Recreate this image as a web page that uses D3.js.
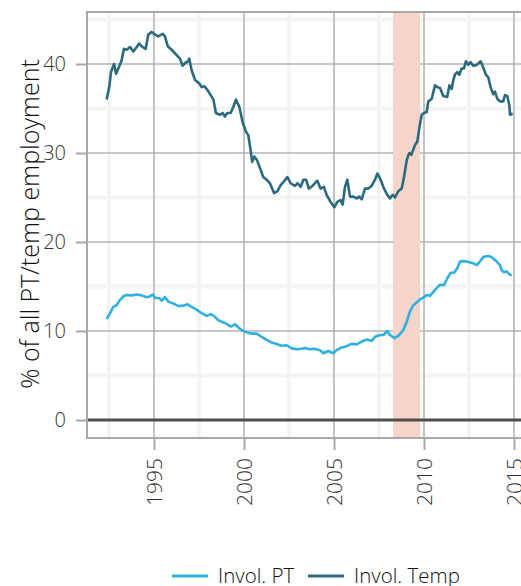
<!DOCTYPE html>
<html><head><meta charset="utf-8">
<script src="https://cdn.jsdelivr.net/npm/d3@7/dist/d3.min.js"></script>
<style>
body{margin:0;background:#fff;overflow:hidden;}
text{font-family:"Open Sans",sans-serif;font-weight:300;}
</style></head><body>
<svg id="c" width="521" height="586"></svg>
<script>
const tempYears=[1992.37,1992.52,1992.61,1992.78,1992.89,1993.06,1993.2,1993.33,1993.48,1993.67,1993.85,1994.0,1994.18,1994.37,1994.54,1994.68,1994.87,1995.06,1995.24,1995.48,1995.61,1995.76,1995.98,1996.26,1996.44,1996.59,1996.72,1996.87,1996.96,1997.09,1997.28,1997.52,1997.65,1997.8,1997.96,1998.15,1998.3,1998.44,1998.67,1998.81,1998.94,1999.07,1999.26,1999.41,1999.55,1999.74,1999.93,2000.11,2000.24,2000.37,2000.45,2000.57,2000.72,2000.89,2001.07,2001.26,2001.44,2001.67,2001.85,2002.04,2002.22,2002.41,2002.59,2002.83,2002.98,2003.15,2003.3,2003.45,2003.6,2003.8,2004.07,2004.25,2004.44,2004.59,2004.81,2005.02,2005.18,2005.37,2005.48,2005.61,2005.74,2005.89,2006.07,2006.26,2006.4,2006.54,2006.72,2006.9,2007.09,2007.28,2007.41,2007.59,2007.78,2007.96,2008.11,2008.26,2008.39,2008.57,2008.76,2008.89,2009.04,2009.18,2009.3,2009.5,2009.63,2009.74,2009.87,2010.0,2010.15,2010.24,2010.43,2010.61,2010.74,2010.89,2011.07,2011.29,2011.41,2011.54,2011.63,2011.72,2011.85,2011.96,2012.09,2012.22,2012.33,2012.46,2012.59,2012.74,2012.93,2013.15,2013.29,2013.44,2013.57,2013.7,2013.85,2013.94,2014.07,2014.22,2014.4,2014.5,2014.63,2014.74,2014.78,2014.93];
const tempValues=[36.0,37.5,39.1,40.0,38.9,39.7,40.4,41.7,41.6,41.9,41.4,41.8,42.3,41.9,41.7,43.3,43.6,43.3,43.1,43.4,43.1,42.0,41.6,41.0,40.6,39.8,40.1,40.3,40.6,39.3,38.2,37.8,37.4,37.5,37.1,36.5,36.0,34.5,34.3,34.5,34.1,34.5,34.5,35.2,36.0,35.2,33.4,32.4,32.0,30.3,29.0,29.6,29.2,28.3,27.3,27.0,26.6,25.5,25.7,26.4,26.8,27.3,26.6,26.3,26.6,26.2,27.0,27.0,26.0,26.3,26.9,26.0,26.2,25.3,24.5,23.9,24.5,24.7,24.2,26.2,27.0,25.1,25.1,24.9,25.1,24.8,26.0,26.0,26.3,27.0,27.7,27.0,26.0,25.3,24.9,25.3,25.0,25.7,26.0,27.3,29.2,30.0,29.8,30.9,31.3,32.8,34.3,34.5,34.6,35.8,36.1,37.6,37.4,37.3,36.4,36.3,37.6,37.2,38.2,38.8,39.1,38.8,39.5,39.5,40.3,39.9,40.2,39.8,39.9,40.3,39.6,38.8,38.5,37.4,36.6,36.9,36.1,35.8,35.8,36.5,36.4,35.4,34.3,34.4];
const ptYears=[1992.37,1992.56,1992.74,1992.93,1993.11,1993.3,1993.48,1993.76,1994.04,1994.32,1994.59,1994.78,1994.93,1995.06,1995.3,1995.43,1995.61,1995.8,1996.07,1996.35,1996.63,1996.87,1997.09,1997.37,1997.65,1997.93,1998.17,1998.39,1998.57,1998.81,1999.04,1999.26,1999.5,1999.69,1999.87,2000.15,2000.43,2000.7,2000.98,2001.26,2001.54,2001.81,2002.09,2002.37,2002.65,2002.93,2003.2,2003.4,2003.62,2003.94,2004.22,2004.41,2004.68,2004.96,2005.15,2005.43,2005.7,2005.98,2006.26,2006.54,2006.82,2007.09,2007.28,2007.56,2007.75,2007.96,2008.11,2008.35,2008.57,2008.85,2009.04,2009.22,2009.41,2009.59,2009.78,2010.0,2010.15,2010.33,2010.52,2010.74,2010.89,2011.11,2011.29,2011.48,2011.67,2011.85,2012.0,2012.18,2012.37,2012.56,2012.74,2012.93,2013.11,2013.29,2013.48,2013.67,2013.85,2014.04,2014.22,2014.31,2014.44,2014.59,2014.74,2014.87];
const ptValues=[11.35,12.0,12.7,12.9,13.5,13.9,14.05,14.0,14.1,14.0,13.8,13.9,14.1,13.7,13.7,13.4,13.8,13.3,13.1,12.8,12.85,13.0,12.7,12.4,12.0,11.7,11.9,11.6,11.2,11.0,10.8,10.5,10.75,10.4,10.1,9.85,9.7,9.7,9.35,9.0,8.7,8.55,8.35,8.4,8.05,7.95,8.0,8.1,7.95,8.0,7.85,7.5,7.75,7.5,7.85,8.15,8.3,8.55,8.5,8.8,9.05,8.9,9.35,9.55,9.55,10.0,9.55,9.2,9.45,10.1,11.05,12.2,12.9,13.2,13.55,13.8,14.05,13.95,14.4,14.9,15.2,15.15,15.9,16.55,16.55,17.05,17.8,17.85,17.8,17.7,17.6,17.4,17.8,18.3,18.4,18.4,18.15,17.8,17.4,16.85,16.6,16.7,16.4,16.2];
const recession=[2008.28,2009.78];
const yTicks=[0,10,20,30,40];
const yMinor=[5,15,25,35,45];
const xTicks=[1995,2000,2005,2010,2015];
const xMinor=[1992.5,1997.5,2002.5,2007.5,2012.5];
const seriesNames=["Invol. PT","Invol. Temp"];
const seriesColors=["#2fb0e0","#2b6a7e"];

const svg=d3.select("#c");
const L=87,T=12,B=438,R=530;
const x=d3.scaleLinear().domain([1995,2010]).range([154,424]);
const y=d3.scaleLinear().domain([0,40]).range([420,64]);
const g=svg.append("g");
g.selectAll(".mx").data(xMinor).join("line").attr("x1",d=>x(d)).attr("x2",d=>x(d)).attr("y1",T).attr("y2",B).attr("stroke","#f4f4f4").attr("stroke-width",4);
g.selectAll(".my").data(yMinor).join("line").attr("y1",d=>y(d)).attr("y2",d=>y(d)).attr("x1",L).attr("x2",R).attr("stroke","#f4f4f4").attr("stroke-width",4);
g.selectAll(".Mx").data(xTicks).join("line").attr("x1",d=>x(d)).attr("x2",d=>x(d)).attr("y1",T).attr("y2",B).attr("stroke","#b5b5b5").attr("stroke-width",1.6);
g.selectAll(".My").data(yTicks).join("line").attr("y1",d=>y(d)).attr("y2",d=>y(d)).attr("x1",L).attr("x2",R).attr("stroke","#b5b5b5").attr("stroke-width",1.6);
g.append("rect").attr("x",x(recession[0])).attr("width",x(recession[1])-x(recession[0])).attr("y",T).attr("height",B-T).attr("fill","#f5d5ca");
g.append("line").attr("x1",L).attr("x2",R).attr("y1",y(0)).attr("y2",y(0)).attr("stroke","#4d4d4d").attr("stroke-width",3);
const line=d3.line().x(d=>x(d[0])).y(d=>y(d[1]));
const pt=ptYears.map((d,i)=>[d,ptValues[i]]);
const tp=tempYears.map((d,i)=>[d,tempValues[i]]);
g.append("path").attr("d",line(pt)).attr("fill","none").attr("stroke",seriesColors[0]).attr("stroke-width",2.6).attr("stroke-linejoin","round");
g.append("path").attr("d",line(tp)).attr("fill","none").attr("stroke",seriesColors[1]).attr("stroke-width",2.6).attr("stroke-linejoin","round");
g.append("rect").attr("x",L).attr("y",T).attr("width",R-L).attr("height",B-T).attr("fill","none").attr("stroke","#a8a8a8").attr("stroke-width",2);
const ya=svg.append("g").attr("transform",`translate(${L},0)`).call(d3.axisLeft(y).tickValues(yTicks).tickSize(11).tickPadding(10));
ya.select(".domain").remove();
ya.selectAll(".tick line").attr("stroke","#a8a8a8").attr("stroke-width",2);
ya.selectAll(".tick text").attr("fill","#333").style("font-size","20px").style("font-family","'Open Sans',sans-serif").style("font-weight","300");
const xa=svg.append("g").attr("transform",`translate(0,${B})`).call(d3.axisBottom(x).tickValues(xTicks).tickFormat(d3.format("d")).tickSize(12).tickPadding(0));
xa.select(".domain").remove();
xa.selectAll(".tick line").attr("stroke","#a8a8a8").attr("stroke-width",2);
xa.selectAll(".tick text").attr("fill","#333").style("font-size","21px").style("font-family","'Open Sans',sans-serif").style("font-weight","300")
  .attr("transform","rotate(-90)").attr("text-anchor","end").attr("x",-20).attr("y",0).attr("dy","0.35em");
svg.append("text").attr("transform","translate(30,224) rotate(-90)").attr("text-anchor","middle").attr("dy","0.35em")
  .attr("fill","#111").style("font-size","25px").text("% of all PT/temp employment");
const leg=svg.append("g").attr("transform","translate(0,576)");
const lx=[172,308];
seriesNames.forEach((n,i)=>{
  leg.append("line").attr("x1",lx[i]).attr("x2",lx[i]+36).attr("y1",0).attr("y2",0).attr("stroke",seriesColors[i]).attr("stroke-width",3);
  leg.append("text").attr("x",lx[i]+46).attr("y",0).attr("dy","0.35em").attr("fill","#111").style("font-size","20.5px").text(n);
});
</script></body></html>
